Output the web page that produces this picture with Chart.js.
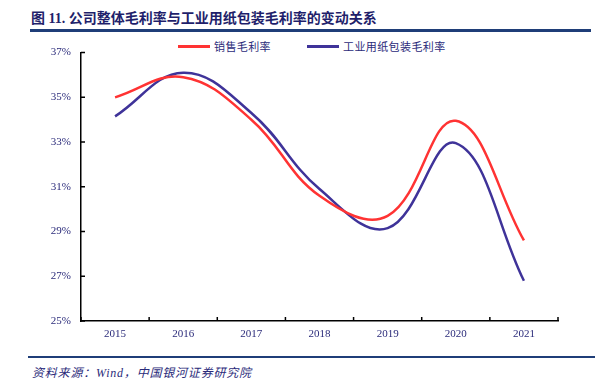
<!DOCTYPE html>
<html>
<head>
<meta charset="utf-8">
<script src="https://cdn.jsdelivr.net/npm/chart.js@4"></script>
<style>
  html, body { margin: 0; padding: 0; background: #fff; }
  body { width: 612px; height: 384px; position: relative; overflow: hidden;
         font-family: "Liberation Serif", "Noto Sans CJK SC", serif; }
  #title { position: absolute; left: 31px; top: 7px; font-size: 14px; font-weight: bold;
           color: #1f1f6b; font-family: "Liberation Serif", "Noto Sans CJK SC", serif; white-space: nowrap; }
  #rule-top { position: absolute; left: 30px; top: 29px; width: 561px; height: 3px; background: #1f3e78; }
  #rule-bottom { position: absolute; left: 28px; top: 356px; width: 567px; height: 2px; background: #1f3e78; }
  #source { position: absolute; left: 32px; top: 363px; font-size: 12px; font-style: italic; letter-spacing: 0.8px;
            color: #2b2b7a; white-space: nowrap; }
  #legend { position: absolute; left: 178px; top: 38px; display: flex; gap: 36px;
            font-size: 11px; color: #2b2b7a; font-family: "Noto Sans CJK SC", sans-serif; letter-spacing: 0.4px; }
  #legend .item { display: flex; align-items: center; gap: 4px; }
  #legend .swatch { width: 32px; height: 3px; }
  #wrap { position: absolute; left: 40px; top: 36px; width: 530px; height: 304px; }
</style>
</head>
<body>
<div id="title">图 11. 公司整体毛利率与工业用纸包装毛利率的变动关系</div>
<div id="rule-top"></div>
<div id="legend"></div>
<div id="wrap"><canvas id="chart"></canvas></div>
<div id="rule-bottom"></div>
<div id="source">资料来源：Wind，中国银河证券研究院</div>

<script>
// ── Data ──────────────────────────────────────────────────────
const years        = ['2015', '2016', '2017', '2018', '2019', '2020', '2021'];
const salesMargin  = [35.0, 35.9, 34.0, 30.6, 29.7, 33.95, 28.6];   // 销售毛利率
const paperMargin  = [34.15, 36.1, 34.3, 30.9, 29.15, 32.95, 26.8]; // 工业用纸包装毛利率
const yTicks       = [25, 27, 29, 31, 33, 35, 37];

const RED  = '#ff3333';
const BLUE = '#3f3399';
const LABEL_COLOR = '#2b2b7a';

// ── Inward tick marks (left + bottom axes) ────────────────────
const inwardTicks = {
  id: 'inwardTicks',
  afterDatasetsDraw(chart) {
    const { ctx, scales: { x, y } } = chart;
    ctx.save();
    ctx.strokeStyle = '#000';
    ctx.lineWidth = 1.5;
    ctx.beginPath();
    y.ticks.forEach((t, i) => {
      const py = y.getPixelForTick(i);
      ctx.moveTo(x.left, py);
      ctx.lineTo(x.left + 4, py);
    });
    for (let i = 0; i <= years.length; i++) {
      const px = x.getPixelForValue(i - 0.5);
      ctx.moveTo(px, y.bottom);
      ctx.lineTo(px, y.bottom - 4);
    }
    ctx.stroke();
    ctx.restore();
  },
};

const chart = new Chart(document.getElementById('chart').getContext('2d'), {
  type: 'line',
  data: {
    labels: years,
    datasets: [
      { label: '销售毛利率',         data: salesMargin, borderColor: RED,  backgroundColor: RED,
        borderWidth: 2.5, pointRadius: 0, tension: 0.4, fill: false },
      { label: '工业用纸包装毛利率', data: paperMargin, borderColor: BLUE, backgroundColor: BLUE,
        borderWidth: 2.5, pointRadius: 0, tension: 0.4, fill: false },
    ],
  },
  options: {
    responsive: true, maintainAspectRatio: false, animation: false,
    layout: { padding: { top: 8, right: 12, bottom: 0, left: 0 } },
    plugins: { legend: { display: false }, tooltip: { enabled: false } },
    scales: {
      x: {
        offset: true,
        grid: { display: true, drawOnChartArea: false, drawTicks: false, color: 'transparent' },
        border: { display: true, color: '#000', width: 1.5 },
        ticks: { color: LABEL_COLOR, padding: 7, font: { family: 'Liberation Serif', size: 11 }, maxRotation: 0 },
        afterFit(scale) { scale.height = 19; },
      },
      y: {
        min: 25, max: 37,
        afterBuildTicks(scale) { scale.ticks = yTicks.map(v => ({ value: v })); },
        grid: { display: true, drawOnChartArea: false, drawTicks: false, color: 'transparent' },
        border: { display: true, color: '#000', width: 1.5 },
        ticks: { color: LABEL_COLOR, padding: 10, font: { family: 'Liberation Serif', size: 11 },
                 callback: v => v + '%' },
        afterFit(scale) { scale.width = 41; },
      },
    },
  },
  plugins: [inwardTicks],
});

// ── HTML legend built from the datasets ───────────────────────
document.getElementById('legend').innerHTML = chart.data.datasets.map(ds => `
  <div class="item"><span class="swatch" style="background:${ds.borderColor}"></span>${ds.label}</div>`).join('');
</script>
</body>
</html>
